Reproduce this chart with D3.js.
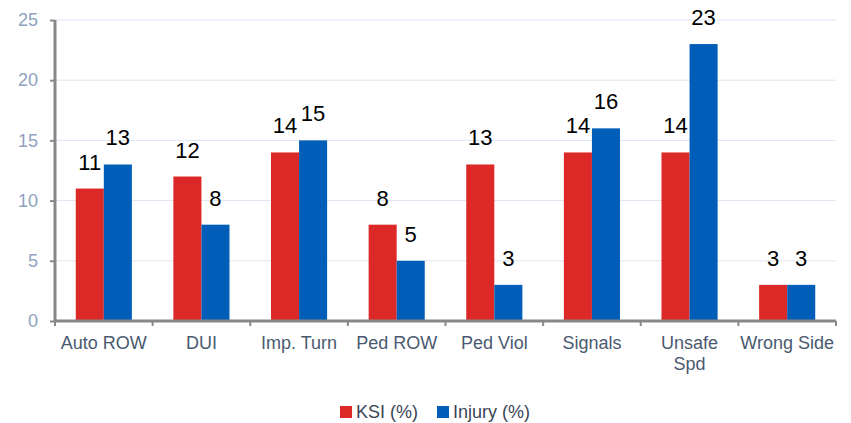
<!DOCTYPE html>
<html>
<head>
<meta charset="utf-8">
<script src="https://cdn.jsdelivr.net/npm/d3@7"></script>
<style>
  body { margin: 0; background: #fff; }
  svg { display: block; }
</style>
</head>
<body>
<div id="chart"></div>
<script>
(function () {
  // chart data
  const categories = ['Auto ROW', 'DUI', 'Imp. Turn', 'Ped ROW', 'Ped Viol', 'Signals', 'Unsafe Spd', 'Wrong Side'];
  const ksiValues = [11, 12, 14, 8, 13, 14, 14, 3];
  const injuryValues = [13, 8, 15, 5, 3, 16, 23, 3];
  const seriesNames = ['KSI (%)', 'Injury (%)'];
  const yTicks = [0, 5, 10, 15, 20, 25];

  const colors = ['#dc2826', '#005eb8'];

  const W = 851, H = 423;
  const margin = { top: 20, right: 15, bottom: 102, left: 55 };
  const width = W - margin.left - margin.right;
  const height = H - margin.top - margin.bottom;

  const svg = d3.select('#chart')
    .append('svg')
    .attr('width', W)
    .attr('height', H);

  const g = svg.append('g')
    .attr('transform', `translate(${margin.left}, ${margin.top})`);

  const xScale = d3.scaleBand()
    .domain(categories)
    .range([0, width])
    .padding(0);

  const inner = d3.scaleBand()
    .domain(seriesNames)
    .range([0, xScale.bandwidth()])
    .paddingOuter(0.74)
    .paddingInner(0);

  const yScale = d3.scaleLinear()
    .domain([0, 25])
    .range([height, 0]);

  //gridlines
  g.selectAll('line.grid')
    .data(yTicks.filter(d => d > 0))
    .enter()
    .append('line')
    .attr('class', 'grid')
    .attr('x1', 0)
    .attr('x2', width)
    .attr('y1', d => yScale(d))
    .attr('y2', d => yScale(d))
    .style('stroke', '#dde5f1')
    .style('stroke-width', 1);

  //bars
  const rows = categories.map((c, i) => ({ cat: c, vals: [ksiValues[i], injuryValues[i]] }));

  const group = g.selectAll('g.cat')
    .data(rows)
    .enter()
    .append('g')
    .attr('class', 'cat')
    .attr('transform', d => `translate(${xScale(d.cat)}, 0)`);

  group.selectAll('rect')
    .data(d => d.vals.map((v, j) => ({ name: seriesNames[j], v, j })))
    .enter()
    .append('rect')
    .attr('x', d => inner(d.name))
    .attr('y', d => yScale(d.v))
    .attr('width', inner.bandwidth())
    .attr('height', d => height - yScale(d.v))
    .style('fill', d => colors[d.j]);

  group.selectAll('text.val')
    .data(d => d.vals.map((v, j) => ({ name: seriesNames[j], v, j })))
    .enter()
    .append('text')
    .attr('class', 'val')
    .attr('x', d => inner(d.name) + inner.bandwidth() / 2)
    .attr('y', d => yScale(d.v) - 19)
    .attr('text-anchor', 'middle')
    .style('font-family', '"Liberation Sans", Arial, sans-serif')
    .style('font-size', '22px')
    .style('fill', '#000')
    .text(d => d.v);

  //y axis
  const yAxis = d3.axisLeft(yScale)
    .tickValues(yTicks)
    .tickSize(5)
    .tickPadding(12);

  const ya = g.append('g').attr('id', 'yAxis').call(yAxis);
  ya.select('.domain').remove();
  ya.selectAll('.tick line').style('stroke', '#888').style('stroke-width', 2);
  ya.selectAll('.tick text')
    .style('font-family', '"Liberation Sans", Arial, sans-serif')
    .style('font-size', '18px')
    .style('fill', '#8fa2bf');

  g.append('line')
    .attr('x1', 0).attr('x2', 0)
    .attr('y1', 0).attr('y2', height + 1)
    .style('stroke', '#888')
    .style('stroke-width', 3);

  //x axis
  const xa = g.append('g')
    .attr('transform', `translate(0, ${height})`);

  xa.append('line')
    .attr('x1', 0).attr('x2', width)
    .style('stroke', '#888')
    .style('stroke-width', 3);

  xa.selectAll('line.tick')
    .data(categories.map(c => xScale(c)).concat([width]))
    .enter()
    .append('line')
    .attr('class', 'tick')
    .attr('x1', d => d).attr('x2', d => d)
    .attr('y1', 0).attr('y2', 5)
    .style('stroke', '#888')
    .style('stroke-width', 2);

  const xlabels = xa.selectAll('text.xl')
    .data(categories)
    .enter()
    .append('text')
    .attr('class', 'xl')
    .attr('text-anchor', 'middle')
    .attr('x', d => xScale(d) + xScale.bandwidth() / 2)
    .attr('y', 28)
    .style('font-family', '"Liberation Sans", Arial, sans-serif')
    .style('font-size', '18px')
    .style('fill', '#4a5a70');

  xlabels.each(function (d) {
    const t = d3.select(this);
    if (d === 'Unsafe Spd') {
      t.append('tspan').attr('x', xScale(d) + xScale.bandwidth() / 2).text('Unsafe');
      t.append('tspan').attr('x', xScale(d) + xScale.bandwidth() / 2).attr('dy', 21).text('Spd');
    } else {
      t.text(d);
    }
  });

  //legend
  const legend = svg.append('g').attr('transform', 'translate(340, 406)');
  const legendX = [0, 97];
  seriesNames.forEach((s, i) => {
    legend.append('rect')
      .attr('x', legendX[i])
      .attr('y', 0)
      .attr('width', 12)
      .attr('height', 12)
      .style('fill', colors[i]);
    legend.append('text')
      .attr('x', legendX[i] + 16)
      .attr('y', 12)
      .style('font-family', '"Liberation Sans", Arial, sans-serif')
      .style('font-size', '18px')
      .style('fill', '#3a4556')
      .text(s);
  });
})();
</script>
</body>
</html>
